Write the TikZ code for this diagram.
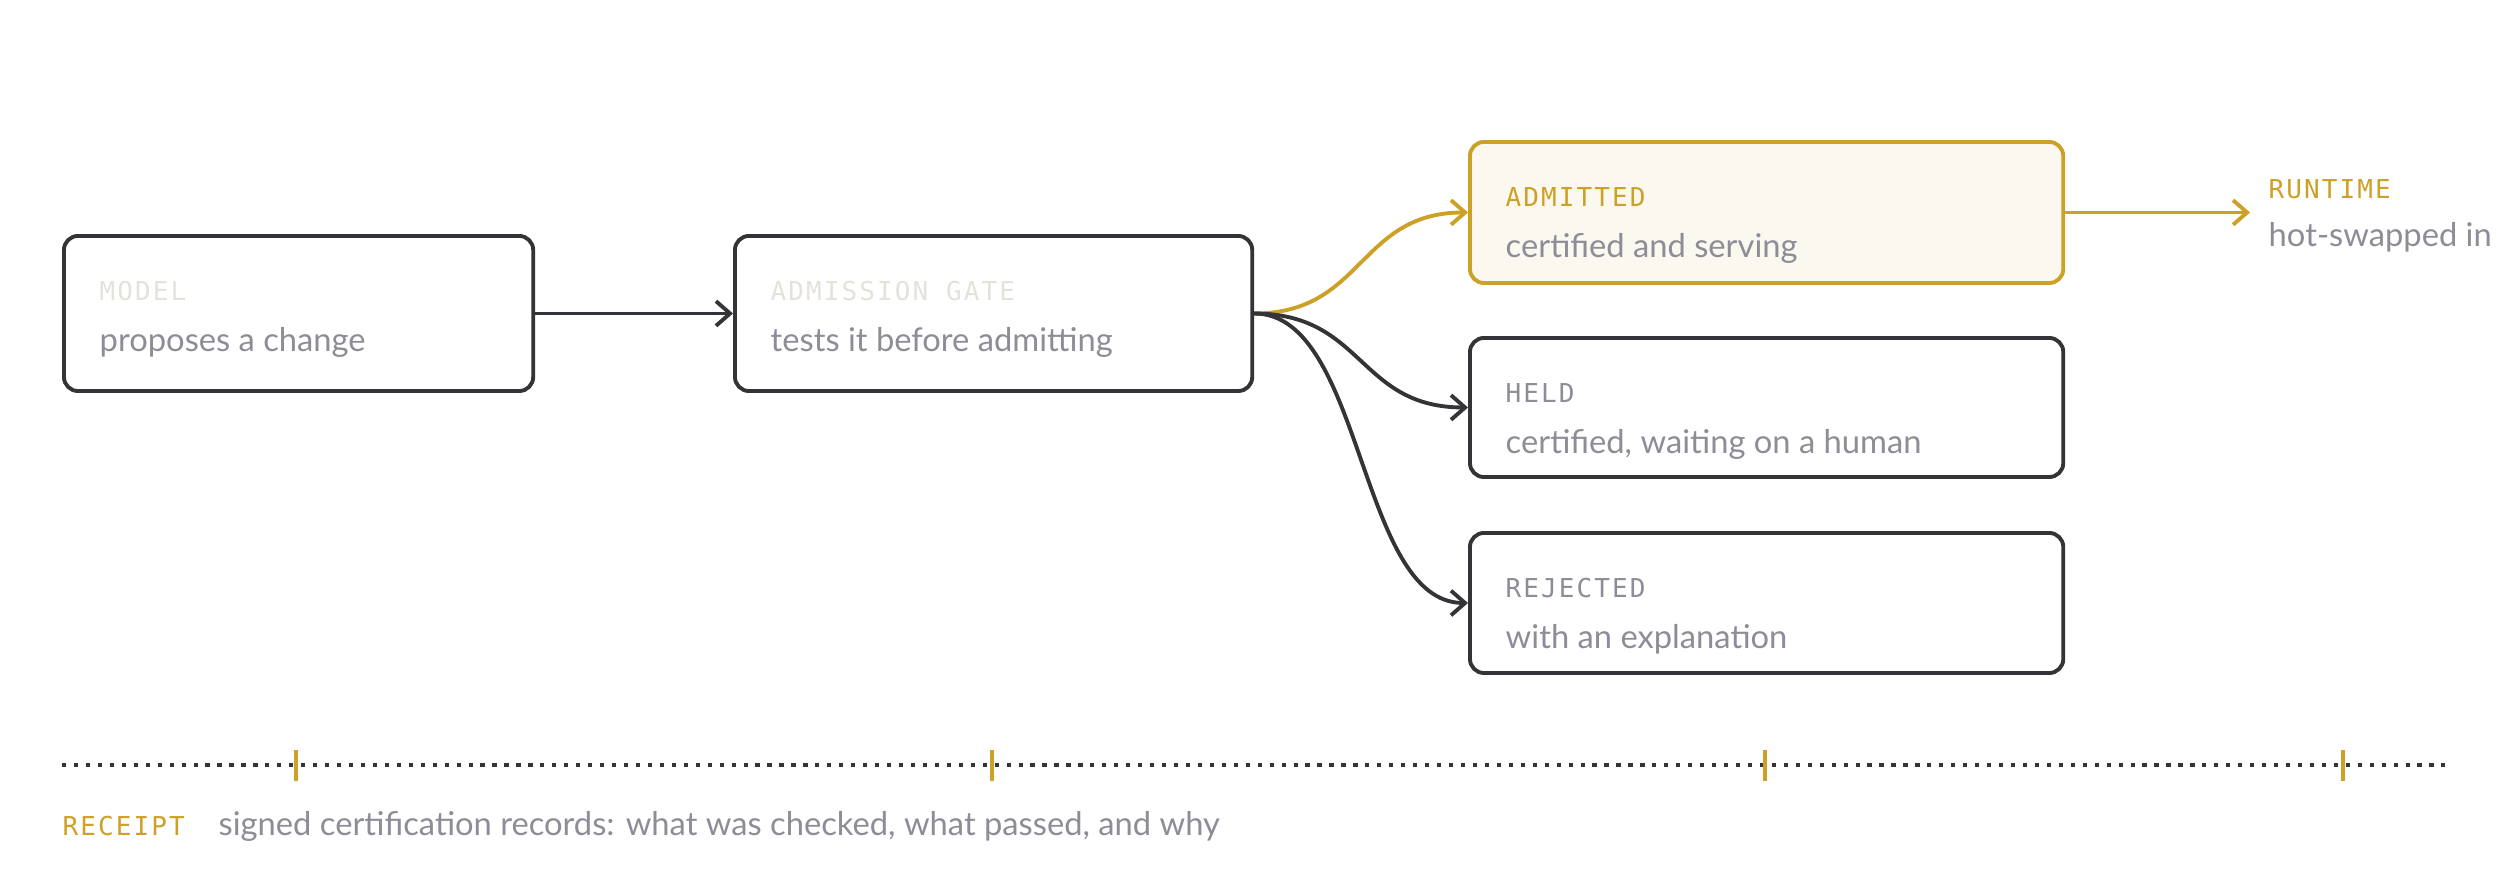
\documentclass[tikz,border=0pt]{standalone}
\usepackage{fontspec}
\setmainfont{Lato}
\newfontfamily\labelmono[LetterSpace=8]{DejaVu Sans Mono}
\usetikzlibrary{positioning,calc,arrows.meta}
\definecolor{ink}{HTML}{333338}
\definecolor{gold}{HTML}{CDA128}
\definecolor{mute}{HTML}{8E8C96}
\definecolor{pale}{HTML}{E4E2DA}
\definecolor{cream}{HTML}{FBF8EF}

\begin{document}
\begin{tikzpicture}[x=0.01cm,y=-0.01cm,
   box/.style={draw=ink,line width=1.1pt,rounded corners=4pt,inner sep=0pt},
   tag/.style={anchor=base west,inner sep=0pt,font=\labelmono\fontsize{7.4}{8}\selectfont},
   sub/.style={anchor=base west,inner sep=0pt,text=mute,font=\fontsize{9.3}{11}\selectfont},
   flow/.style={draw=ink,line width=1.1pt,-{Straight Barb[length=4pt,width=7pt]}}]

\useasboundingbox (0,0) rectangle (2500,875);

% boxes
\node[box,minimum width=4.69cm,minimum height=1.55cm,anchor=north west] (model) at (62,234) {};
\node[box,minimum width=5.17cm,minimum height=1.55cm,anchor=north west] (gate) at (733,234) {};
\node[box,draw=gold,fill=cream,minimum width=5.93cm,minimum height=1.41cm,anchor=north west] (admitted) at (1468,140) {};
\node[box,minimum width=5.93cm,minimum height=1.39cm,anchor=north west] (held) at (1468,336) {};
\node[box,minimum width=5.93cm,minimum height=1.40cm,anchor=north west] (rejected) at (1468,531) {};

% texts
\foreach \b/\t/\c/\s in {model/MODEL/pale/proposes a change,
                         gate/ADMISSION GATE/pale/tests it before admitting,
                         admitted/ADMITTED/gold/certified and serving,
                         held/HELD/mute/{certified, waiting on a human},
                         rejected/REJECTED/mute/with an explanation}{
  \node[tag,text=\c] (\b-tag) at ([xshift=0.37cm,yshift=-0.66cm]\b.north west) {\t};
  \node[sub] (\b-sub) at ([xshift=0.37cm,yshift=-1.17cm]\b.north west) {\s};
}

\node[tag,text=gold] (runtime) at (2268,198) {RUNTIME};
\node[sub] (runtime-sub) at (2268,246) {hot-swapped in};
\coordinate (runtime-in) at (2250,210);

% connectors
\draw[flow] (model.east) -- (gate.west);
\draw[flow,draw=gold] (gate.east) .. controls +(110,0) and +(-110,0) .. (admitted.west);
\draw[flow] (gate.east) .. controls +(110,0) and +(-110,0) .. (held.west);
\draw[flow] (gate.east) .. controls +(110,0) and +(-110,0) .. (rejected.west);
\draw[flow,draw=gold] (admitted.east) -- (admitted.east -| runtime-in);

% receipt line
\coordinate (line-l) at (62,765);
\coordinate (line-r) at (2445,765);
\draw[ink,line width=1.2pt,dash pattern=on 1.2pt off 2.2pt] (line-l) -- (line-r);
\foreach \x in {296,992,1765,2343}
  \draw[gold,line width=1.2pt] (\x,750) -- (\x,781);
\node[tag,text=gold] (receipt) at (62,835) {RECEIPT};
\node[sub] (receipt-sub) at (218,835) {signed certification records: what was checked, what passed, and why};
\end{tikzpicture}
\end{document}
